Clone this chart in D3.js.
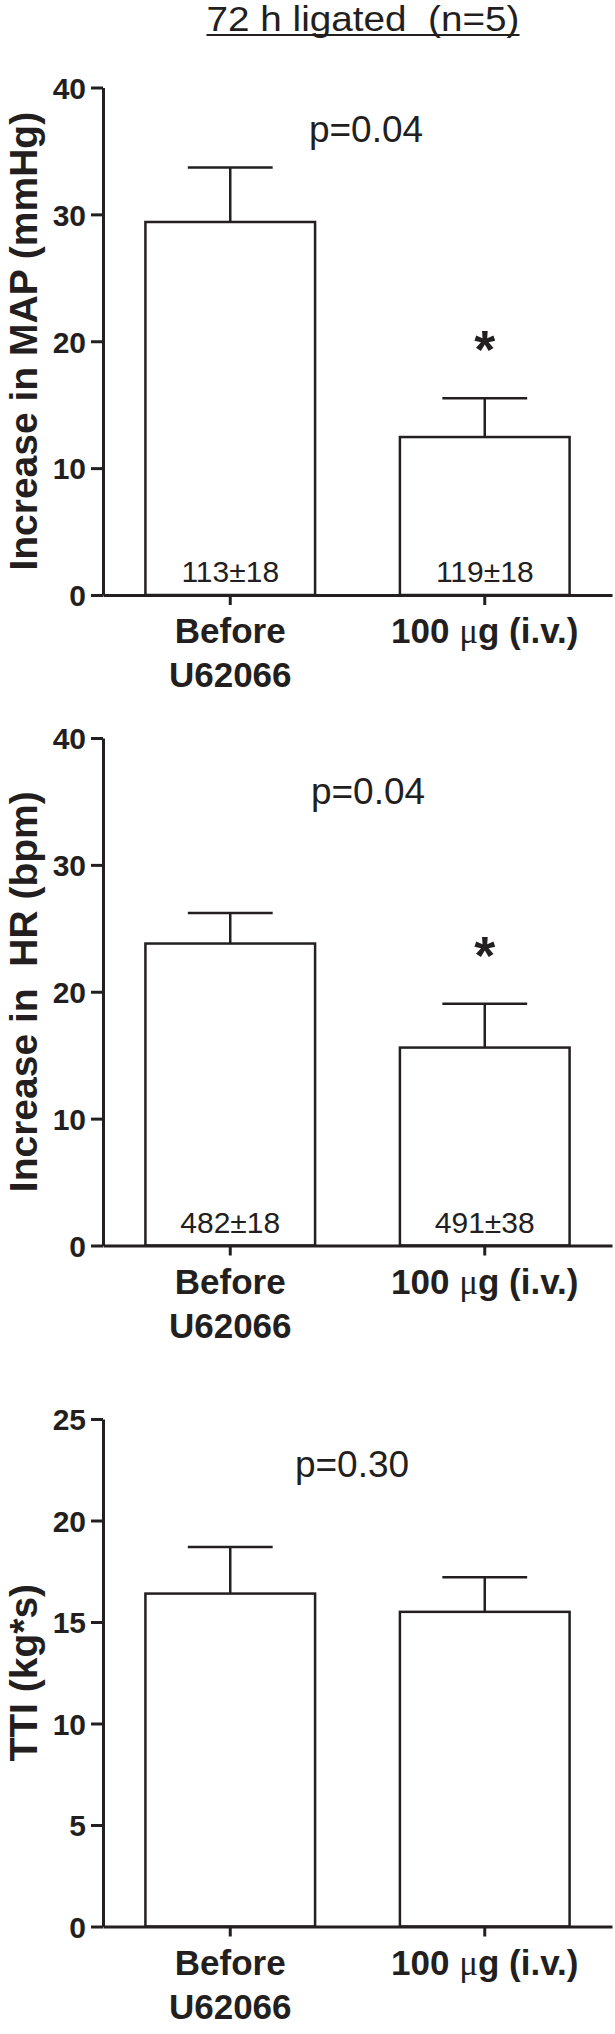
<!DOCTYPE html>
<html>
<head>
<meta charset="utf-8">
<script src="https://cdn.jsdelivr.net/npm/d3@7"></script>
<style>
  body { margin: 0; background: #fff; }
  svg { display: block; }
  text { font-family: "Liberation Sans", Arial, sans-serif; fill: #231f20; }
</style>
</head>
<body>
<svg id="chart" width="615" height="2034"></svg>
<script>
const title = '72 h ligated\u00a0\u00a0(n=5)';
const categories = ['Before|U62066', '100 \u03bcg (i.v.)'];

const mapMeans = [29.4, 12.45];
const mapErrors = [4.3, 3.05];
const mapBaseline = ['113\u00b118', '119\u00b118'];

const hrMeans = [23.8, 15.6];
const hrErrors = [2.4, 3.45];
const hrBaseline = ['482\u00b118', '491\u00b138'];

const ttiMeans = [16.4, 15.5];
const ttiErrors = [2.3, 1.7];

const pValues = ['p=0.04', 'p=0.04', 'p=0.30'];
const significant = [[false, true], [false, true], [false, false]];
const yTicks = [[0, 10, 20, 30, 40], [0, 10, 20, 30, 40], [0, 5, 10, 15, 20, 25]];
const yLabels = ['Increase in MAP (mmHg)', 'Increase in\u00a0\u00a0HR (bpm)', 'TTI (kg*s)'];

const ink = '#231f20';
const svg = d3.select('#chart');

// title with underline
const t = svg.append('text')
  .attr('x', 363).attr('y', 31)
  .attr('text-anchor', 'middle')
  .attr('textLength', 313)
  .attr('lengthAdjust', 'spacingAndGlyphs')
  .style('font-size', '35px')
  .text(title);
const tb = t.node().getBBox();
svg.append('line')
  .attr('x1', tb.x).attr('x2', tb.x + tb.width)
  .attr('y1', 35).attr('y2', 35)
  .attr('stroke', ink).attr('stroke-width', 2);

const panels = [
  { means: mapMeans, errors: mapErrors, notes: mapBaseline, top: 87.5, pX: 366, pY: 142 },
  { means: hrMeans, errors: hrErrors, notes: hrBaseline, top: 738, pX: 368, pY: 804 },
  { means: ttiMeans, errors: ttiErrors, notes: null, top: 1419, pX: 352, pY: 1477 }
];

const plotH = 507.5;
const x = d3.scaleBand()
  .domain(categories)
  .range([103, 612])
  .paddingInner(1 / 3)
  .paddingOuter(1 / 6);

panels.forEach((p, i) => {
  const ticks = yTicks[i];
  const y = d3.scaleLinear()
    .domain([0, d3.max(ticks)])
    .range([p.top + plotH, p.top]);

  const g = svg.append('g');
  const rows = categories.map((c, j) => ({ c, mean: p.means[j], err: p.errors[j], j }));

  // error bar stems and caps (upper only)
  rows.forEach(d => {
    const cx = x(d.c) + x.bandwidth() / 2;
    g.append('line')
      .attr('x1', cx).attr('x2', cx)
      .attr('y1', y(d.mean)).attr('y2', y(d.mean + d.err))
      .attr('stroke', ink).attr('stroke-width', 2.5);
    g.append('line')
      .attr('x1', cx - x.bandwidth() / 4).attr('x2', cx + x.bandwidth() / 4)
      .attr('y1', y(d.mean + d.err)).attr('y2', y(d.mean + d.err))
      .attr('stroke', ink).attr('stroke-width', 2.5);
    if (significant[i][d.j]) {
      g.append('text')
        .attr('x', cx).attr('y', y(d.mean + d.err) - 30)
        .attr('text-anchor', 'middle')
        .style('font-size', '54px').style('font-weight', 'bold')
        .text('*');
    }
  });

  g.selectAll('rect.bar')
    .data(rows)
    .join('rect')
    .attr('class', 'bar')
    .attr('x', d => x(d.c))
    .attr('y', d => y(d.mean))
    .attr('width', x.bandwidth())
    .attr('height', d => y(0) - y(d.mean))
    .attr('fill', '#fff')
    .attr('stroke', ink)
    .attr('stroke-width', 2.5);

  if (p.notes) {
    g.selectAll('text.note')
      .data(rows)
      .join('text')
      .attr('class', 'note')
      .attr('x', d => x(d.c) + x.bandwidth() / 2)
      .attr('y', y(0) - 13)
      .attr('text-anchor', 'middle')
      .style('font-size', '30px')
      .text(d => p.notes[d.j]);
  }

  // y axis
  const ya = g.append('g')
    .attr('transform', 'translate(103,0)')
    .call(d3.axisLeft(y).tickValues(ticks).tickSize(12).tickPadding(5).tickSizeOuter(0));
  ya.select('.domain').attr('stroke', ink).attr('stroke-width', 3);
  ya.selectAll('.tick line').attr('stroke', ink).attr('stroke-width', 3);
  ya.selectAll('.tick text')
    .attr('fill', ink)
    .style('font-family', '"Liberation Sans", Arial, sans-serif')
    .style('font-size', '30px').style('font-weight', 'bold')
    .attr('dy', '0.36em');

  // x axis
  const xa = g.append('g')
    .attr('transform', `translate(0,${y(0)})`)
    .call(d3.axisBottom(x).tickSize(10).tickSizeOuter(0).tickFormat(''));
  xa.select('.domain').attr('stroke', ink).attr('stroke-width', 3);
  xa.selectAll('.tick line').attr('stroke', ink).attr('stroke-width', 3);

  // category labels
  categories.forEach(c => {
    const cx = x(c) + x.bandwidth() / 2;
    c.split('|').forEach((line, k) => {
      const txt = g.append('text')
        .attr('x', cx).attr('y', y(0) + 48 + k * 44)
        .attr('text-anchor', 'middle')
        .style('font-size', '35px').style('font-weight', 'bold');
      const parts = line.split('\u03bc');
      parts.forEach((part, m) => {
        if (m > 0) {
          txt.append('tspan')
            .style('font-family', '"Liberation Serif", "Times New Roman", serif')
            .style('font-weight', 'normal')
            .text('\u03bc');
        }
        txt.append('tspan').text(part);
      });
    });
  });

  // y label
  g.append('text')
    .attr('transform', `translate(37,${p.top + plotH / 2}) rotate(-90)`)
    .attr('text-anchor', 'middle')
    .style('font-size', '39px').style('font-weight', 'bold')
    .text(yLabels[i]);

  // p value
  g.append('text')
    .attr('x', p.pX).attr('y', p.pY)
    .attr('text-anchor', 'middle')
    .style('font-size', '37px')
    .text(pValues[i]);
});
</script>
</body>
</html>
